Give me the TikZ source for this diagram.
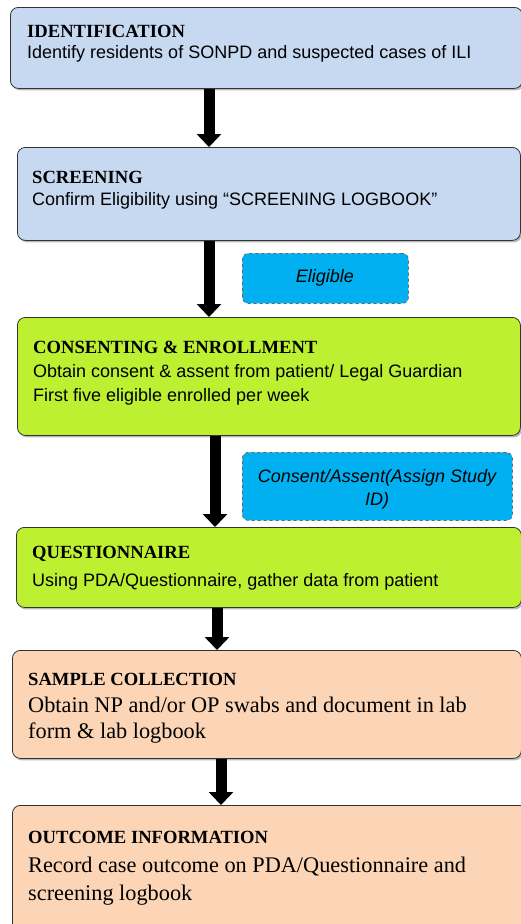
\documentclass[tikz,border=0pt]{standalone}
\usepackage{fontspec}
\setmainfont{Liberation Serif}
\newfontfamily\bodysans{Liberation Sans}
\usetikzlibrary{arrows.meta,shadows}
\definecolor{boxblue}{RGB}{198,217,241}
\definecolor{boxgreen}{RGB}{190,240,50}
\definecolor{boxpeach}{RGB}{251,213,181}
\definecolor{noteblue}{RGB}{0,176,240}
\tikzset{
  stagebox/.style={draw=black!80, line width=0.8pt, rounded corners=8pt, anchor=north west,
    inner sep=0pt, drop shadow={shadow xshift=1.5pt, shadow yshift=-2pt, opacity=0.55}},
  notebox/.style={draw=black!60, dashed, line width=0.8pt, rounded corners=6pt, anchor=north west,
    inner sep=0pt, fill=noteblue},
  head/.style={anchor=base west, inner sep=0pt, font=\fontsize{18.6}{20}\selectfont\bfseries},
  sbody/.style={anchor=base west, inner sep=0pt, font=\fontsize{18}{20}\bodysans},
  rbody/.style={anchor=base west, inner sep=0pt, font=\fontsize{22.3}{24}\selectfont},
  notetext/.style={anchor=base, inner sep=0pt, font=\fontsize{18}{20}\bodysans\itshape},
  bigarrow/.style={line width=11pt, -{Triangle[width=24pt,length=13pt]}, black},
}
\begin{document}
\begin{tikzpicture}[x=1pt,y=-1pt]
\useasboundingbox (0,0) rectangle (521,924);
\begin{scope}
\clip (0,0) rectangle (521,924);
% boxes
\node[stagebox, fill=boxblue, minimum width=512pt, minimum height=81pt] (b1) at (10,7) {};
\node[stagebox, fill=boxblue, minimum width=503pt, minimum height=93pt] (b2) at (17,147) {};
\node[stagebox, fill=boxgreen, minimum width=503pt, minimum height=118pt] (b3) at (17,317) {};
\node[stagebox, fill=boxgreen, minimum width=505pt, minimum height=80pt] (b4) at (16,527) {};
\node[stagebox, fill=boxpeach, minimum width=509pt, minimum height=108pt] (b5) at (12,650) {};
\node[stagebox, fill=boxpeach, minimum width=515pt, minimum height=140pt] (b6) at (12,805) {};
\node[notebox, minimum width=166pt, minimum height=50pt] (n1) at (242,253) {};
\node[notebox, minimum width=270pt, minimum height=68pt] (n2) at (242,452) {};
% arrow positions
\coordinate (x1) at (209,0);
\coordinate (x2) at (209,0);
\coordinate (x3) at (215,0);
\coordinate (x4) at (217,0);
\coordinate (x5) at (221,0);
\draw[bigarrow] (b1.south -| x1) -- (b2.north -| x1);
\draw[bigarrow] (b2.south -| x2) -- (b3.north -| x2);
\draw[bigarrow] (b3.south -| x3) -- (b4.north -| x3);
\draw[bigarrow] (b4.south -| x4) -- (b5.north -| x4);
\draw[bigarrow] (b5.south -| x5) -- (b6.north -| x5);
% texts
\node[head] (t1h) at (27,37) {IDENTIFICATION};
\node[sbody] (t1b) at (27,58) {Identify residents of SONPD and suspected cases of ILI};
\node[head] (t2h) at (32,183) {SCREENING};
\node[sbody] (t2b) at (32,205) {Confirm Eligibility using “SCREENING LOGBOOK”};
\node[head] (t3h) at (33,353) {CONSENTING \& ENROLLMENT};
\node[sbody] (t3b) at (33,377) {Obtain consent \& assent from patient/ Legal Guardian};
\node[sbody] (t3c) at (33,401) {First five eligible enrolled per week};
\node[head] (t4h) at (32,558) {QUESTIONNAIRE};
\node[sbody] (t4b) at (32,586) {Using PDA/Questionnaire, gather data from patient};
\node[head] (t5h) at (28,685) {SAMPLE COLLECTION};
\node[rbody] (t5b) at (28,712) {Obtain NP and/or OP swabs and document in lab};
\node[rbody] (t5c) at (28,738) {form \& lab logbook};
\node[head] (t6h) at (28,843) {OUTCOME INFORMATION};
\node[rbody] (t6b) at (28,872) {Record case outcome on PDA/Questionnaire and};
\node[rbody] (t6c) at (28,900) {screening logbook};
\node[notetext] (e1) at (325,282) {Eligible};
\node[notetext] (c1) at (377,482) {Consent/Assent(Assign Study};
\node[notetext] (c2) at (377,505) {ID)};
\end{scope}
\end{tikzpicture}
\end{document}
